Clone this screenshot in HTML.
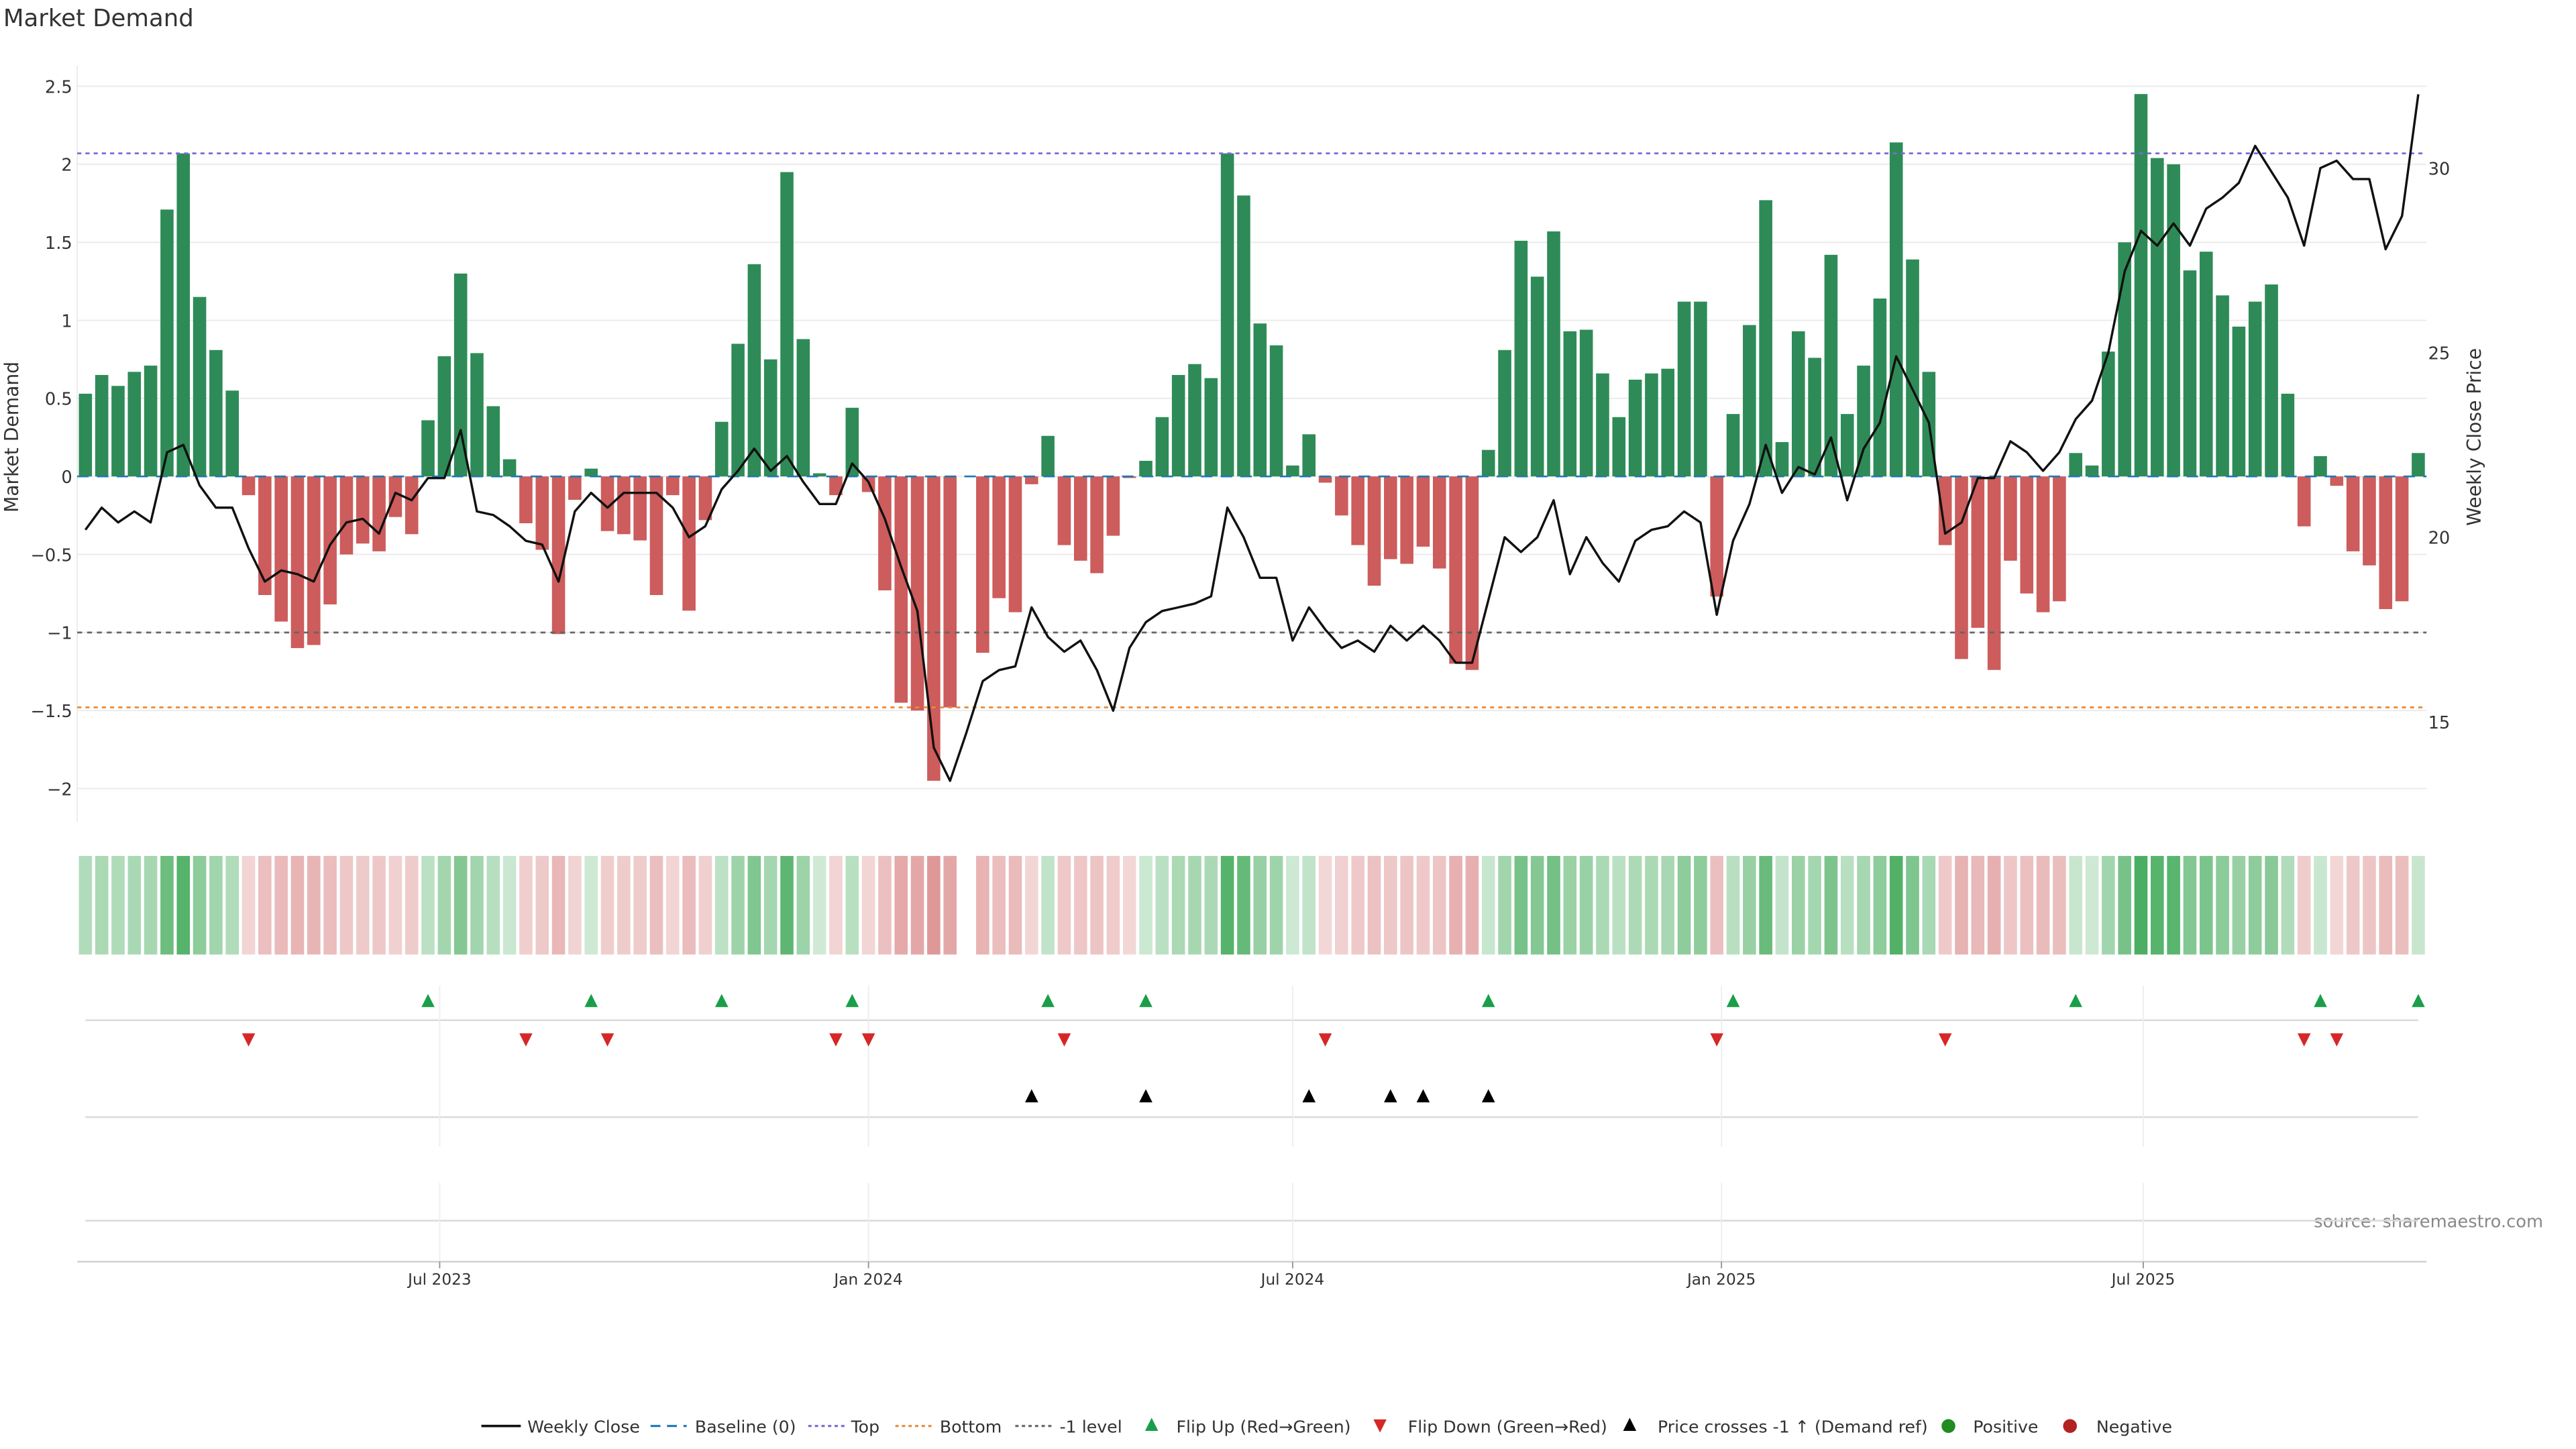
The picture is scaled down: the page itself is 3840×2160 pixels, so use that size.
<!DOCTYPE html>
<html><head><meta charset="utf-8"><title>Market Demand</title>
<style>
html,body{margin:0;padding:0;background:#fff;}
svg{display:block;font-family:"DejaVu Sans","Liberation Sans",sans-serif;}
</style></head>
<body>
<svg id="chart" width="3840" height="2160" viewBox="0 0 1568 882" xmlns="http://www.w3.org/2000/svg">
<text x="2" y="16" font-size="14.5" fill="#333">Market Demand</text>
<text transform="translate(11,266) rotate(-90)" font-size="11.5" fill="#333" text-anchor="middle">Market Demand</text>
<text transform="translate(1510,266) rotate(-90)" font-size="11.5" fill="#333" text-anchor="middle">Weekly Close Price</text>
<text x="1548" y="747" font-size="10.5" fill="#888" text-anchor="end">source: sharemaestro.com</text>
<g id="grid"></g><g id="bars"></g><g id="refs"></g><g id="price"></g><g id="axes"></g><g id="heat"></g><g id="events"></g><g id="legend"></g>
</svg>
<script>
const demand = [0.53,0.65,0.58,0.67,0.71,1.71,2.07,1.15,0.81,0.55,
-0.12,-0.76,-0.93,-1.1,-1.08,-0.82,-0.5,-0.43,-0.48,-0.26,
-0.37,0.36,0.77,1.3,0.79,0.45,0.11,-0.3,-0.47,-1.01,
-0.15,0.05,-0.35,-0.37,-0.41,-0.76,-0.12,-0.86,-0.28,0.35,
0.85,1.36,0.75,1.95,0.88,0.02,-0.12,0.44,-0.1,-0.73,
-1.45,-1.5,-1.95,-1.48,null,-1.13,-0.78,-0.87,-0.05,0.26,
-0.44,-0.54,-0.62,-0.38,-0.01,0.1,0.38,0.65,0.72,0.63,
2.07,1.8,0.98,0.84,0.07,0.27,-0.04,-0.25,-0.44,-0.7,
-0.53,-0.56,-0.45,-0.59,-1.2,-1.24,0.17,0.81,1.51,1.28,
1.57,0.93,0.94,0.66,0.38,0.62,0.66,0.69,1.12,1.12,
-0.77,0.4,0.97,1.77,0.22,0.93,0.76,1.42,0.4,0.71,
1.14,2.14,1.39,0.67,-0.44,-1.17,-0.97,-1.24,-0.54,-0.75,
-0.87,-0.8,0.15,0.07,0.8,1.5,2.45,2.04,2.0,1.32,
1.44,1.16,0.96,1.12,1.23,0.53,-0.32,0.13,-0.06,-0.48,
-0.57,-0.85,-0.8,0.15];
const price = [20.2,20.8,20.4,20.7,20.4,22.3,22.5,21.4,20.8,20.8,
19.7,18.8,19.1,19.0,18.8,19.8,20.4,20.5,20.1,21.2,
21.0,21.6,21.6,22.9,20.7,20.6,20.3,19.9,19.8,18.8,
20.7,21.2,20.8,21.2,21.2,21.2,20.8,20.0,20.3,21.3,
21.8,22.4,21.8,22.2,21.5,20.9,20.9,22.0,21.5,20.5,
19.2,18.0,14.3,13.4,14.7,16.1,16.4,16.5,18.1,17.3,
16.9,17.2,16.4,15.3,17.0,17.7,18.0,18.1,18.2,18.4,
20.8,20.0,18.9,18.9,17.2,18.1,17.5,17.0,17.2,16.9,
17.6,17.2,17.6,17.2,16.6,16.6,18.3,20.0,19.6,20.0,
21.0,19.0,20.0,19.3,18.8,19.9,20.2,20.3,20.7,20.4,
17.9,19.9,20.9,22.5,21.2,21.9,21.7,22.7,21.0,22.4,
23.1,24.9,24.0,23.1,20.1,20.4,21.6,21.6,22.6,22.3,
21.8,22.3,23.2,23.7,25.0,27.2,28.3,27.9,28.5,27.9,
28.9,29.2,29.6,30.6,29.9,29.2,27.9,30.0,30.2,29.7,
29.7,27.8,28.7,32.0];
const crossIdx = [58,65,75,80,82,86];
const leftTicks = [2.5,2,1.5,1,0.5,0,-0.5,-1,-1.5,-2];
const rightTicks = [30,25,20,15];
const xTickLabels = ["Jul 2023","Jan 2024","Jul 2024","Jan 2025","Jul 2025"];
const xTickDates = ["2023-07-01","2024-01-01","2024-07-01","2025-01-01","2025-07-01"];
const levels = {top:2.07, bottom:-1.48, minus1:-1};
const startDate = "2023-01-30";

const NS="http://www.w3.org/2000/svg";
function mk(tag,attrs,parent){const e=document.createElementNS(NS,tag);for(const k in attrs)e.setAttribute(k,attrs[k]);parent.appendChild(e);return e;}
const X0=52, DX=(1472-52)/(demand.length-1);
const xOf=i=>X0+i*DX;
const t0=Date.parse(startDate);
const xDate=s=>X0+(Date.parse(s)-t0)/(7*864e5)*DX;
const yL=v=>290-95*v;
const yR=p=>327-22.47*(p-20);
const G=id=>document.getElementById(id);

for(const t of leftTicks){
  const l=mk('line',{x1:47,x2:1477,y1:yL(t),y2:yL(t),stroke:'#ebebeb','stroke-width':0.8},G('grid'));
  
  
  const tx=mk('text',{x:44,y:yL(t)+4,'font-size':10.5,fill:'#333','text-anchor':'end'},G('axes'));
  tx.textContent=String(t).replace('-','\u2212');
  
  
}
mk('line',{x1:47,x2:47,y1:40,y2:500,stroke:'#ebebeb','stroke-width':0.8},G('grid'));
for(const t of rightTicks){
  const tx=mk('text',{x:1478,y:yR(t)+4,'font-size':10.5,fill:'#333'},G('axes'));
  tx.textContent=t;
  
  
}
demand.forEach((v,i)=>{
  if(v===null)return;
  const y=Math.min(yL(v),yL(0)),h=Math.abs(yL(v)-yL(0));
  const b=mk('rect',{x:xOf(i)-4,y:y,width:8,height:Math.max(h,0.6),fill:v>=0?'#2e8b57':'#cd5c5c'},G('bars'));
  
  
});
function ref(v,color,dash,name){
  const l=mk('line',{x1:47,x2:1477,y1:yL(v),y2:yL(v),stroke:color,'stroke-width':1.1,'stroke-dasharray':dash},G('refs'));
  
  
}
ref(0,'#1f77b4','7 5','baseline-line');
ref(levels.top,'#7b68d8','2.5 2.5','top-line');
ref(levels.bottom,'#e8893a','2.5 2.5','bottom-line');
ref(levels.minus1,'#666','3 3','minus1-line');
const pts=price.map((p,i)=>xOf(i).toFixed(1)+','+yR(p).toFixed(1)).join(' ');
const pl=mk('polyline',{points:pts,fill:'none',stroke:'#111','stroke-width':1.4,'stroke-linejoin':'round'},G('price'));


demand.forEach((v,i)=>{
  if(v===null)return;
  const a=v>=0?Math.min(0.22+0.28*v,0.85):Math.min(0.24+0.2*Math.abs(v),0.7);
  const c=mk('rect',{x:xOf(i)-4,y:521,width:8,height:60,fill:v>=0?'rgb(44,160,70)':'rgb(205,92,92)','fill-opacity':a.toFixed(3)},G('heat'));
  
  
});
[621,680,743].forEach(y=>{const l=mk('line',{x1:52,x2:1472,y1:y,y2:y,stroke:'#d9d9d9','stroke-width':1},G('grid'));
  
  });
mk('line',{x1:47,x2:1477,y1:768,y2:768,stroke:'#cfcfcf','stroke-width':1},G('axes'));
xTickDates.forEach((d,k)=>{
  const x=xDate(d);
  mk('line',{x1:x,x2:x,y1:600,y2:698,stroke:'#eeeeee','stroke-width':0.8},G('grid'));
  mk('line',{x1:x,x2:x,y1:720,y2:768,stroke:'#eeeeee','stroke-width':0.8},G('grid'));
  mk('line',{x1:x,x2:x,y1:768,y2:772,stroke:'#999','stroke-width':0.8},G('axes'));
  const t=mk('text',{x:x,y:782,'font-size':9.5,fill:'#333','text-anchor':'middle'},G('axes'));
  t.textContent=xTickLabels[k];
  
  
});
function tri(x,y,up,color,name){
  const p=up?`${x-4},${y+3} ${x+4},${y+3} ${x},${y-5}`:`${x-4},${y-4} ${x+4},${y-4} ${x},${y+4}`;
  const e=mk('polygon',{points:p,fill:color},G('events'));
  
  
}
let prev=null;
demand.forEach((v,i)=>{
  if(v===null)return;
  if(prev!==null){
    if(prev<0&&v>=0)tri(xOf(i),610,true,'#1a9e4a','flip-up-marker');
    if(prev>=0&&v<0)tri(xOf(i),633,false,'#d62728','flip-down-marker');
  }
  prev=v;
});
crossIdx.forEach(i=>tri(xOf(i),668,true,'#000','price-cross-marker'));
const L=G('legend'),ly=868;
function lt(x,s){const t=mk('text',{x:x,y:ly+4,'font-size':10.3,fill:'#333'},L);t.textContent=s;
  
  }
mk('line',{x1:293,x2:317,y1:ly,y2:ly,stroke:'#111','stroke-width':1.5},L);lt(321,'Weekly Close');
mk('line',{x1:396,x2:418,y1:ly,y2:ly,stroke:'#1f77b4','stroke-width':1.3,'stroke-dasharray':'6 4'},L);lt(423,'Baseline (0)');
mk('line',{x1:492,x2:514,y1:ly,y2:ly,stroke:'#7b68d8','stroke-width':1.3,'stroke-dasharray':'2 2'},L);lt(518,'Top');
mk('line',{x1:545,x2:567,y1:ly,y2:ly,stroke:'#e8893a','stroke-width':1.3,'stroke-dasharray':'2 2'},L);lt(572,'Bottom');
mk('line',{x1:618,x2:640,y1:ly,y2:ly,stroke:'#666','stroke-width':1.3,'stroke-dasharray':'2 2'},L);lt(645,'-1 level');
mk('polygon',{points:`${697},${ly+3} ${705},${ly+3} ${701},${ly-5}`,fill:'#1a9e4a'},L);lt(716,'Flip Up (Red\u2192Green)');
mk('polygon',{points:`${836},${ly-4} ${844},${ly-4} ${840},${ly+4}`,fill:'#d62728'},L);lt(857,'Flip Down (Green\u2192Red)');
mk('polygon',{points:`${988},${ly+3} ${996},${ly+3} ${992},${ly-5}`,fill:'#000'},L);lt(1009,'Price crosses -1 \u2191 (Demand ref)');
mk('circle',{cx:1186,cy:ly,r:4.2,fill:'#228b22'},L);lt(1201,'Positive');
mk('circle',{cx:1260,cy:ly,r:4.2,fill:'#b22222'},L);lt(1276,'Negative');
</script>
</body></html>
